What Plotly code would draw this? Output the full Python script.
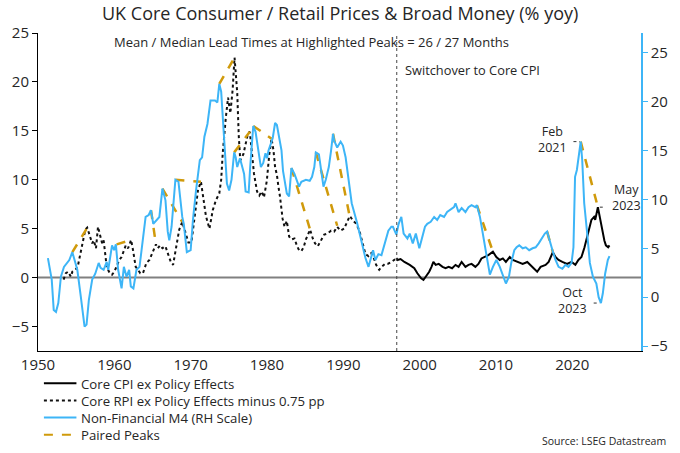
import plotly.graph_objects as go

# ---------------- data ----------------
m4_year = [1951.3,1951.8,1952.06,1952.36,1952.66,1953.0,1953.4,1954.1,1954.5,1954.7,1955.15,1955.6,1956.1,1956.36,1956.66,
           1957.1,1957.5,1957.95,1958.2,1958.6,1959.0,1959.2,1959.7,1959.97,1960.2,1960.5,1960.95,1961.25,1961.6,1961.94,
           1962.16,1962.5,1962.9,1963.3,1963.66,1964.1,1964.5,1964.8,1965.1,1965.9,1966.3,1966.7,1967.0,1967.2,1967.5,
           1968.0,1968.4,1968.9,1969.1,1969.5,1970.0,1970.3,1970.7,1971.2,1971.5,1971.8,1972.2,1972.6,1973.2,1973.5,
           1973.75,1974.0,1974.4,1974.75,1975.04,1975.35,1975.7,1975.9,1976.1,1976.46,1976.8,1977.0,1977.2,1977.6,1977.8,
           1978.2,1978.5,1978.9,1979.2,1979.5,1979.8,1980.0,1980.2,1980.6,1980.76,1981.06,1981.3,1981.6,1981.9,1982.1,
           1982.6,1982.9,1983.2,1983.6,1983.8,1984.2,1984.5,1985.1,1985.6,1985.9,1986.2,1986.4,1986.8,1987.1,1987.4,
           1987.7,1988.1,1988.4,1988.65,1988.8,1989.0,1989.2,1989.65,1989.95,1990.3,1990.6,1991.1,1991.8,1992.4,1992.9,
           1993.3,1993.65,1993.9,1994.2,1994.6,1995.0,1995.45,1995.9,1996.3,1996.5,1996.95,1997.25,1997.6,1997.9,1998.4,
           1998.7,1999.1,1999.5,1999.96,2000.4,2000.7,2001.0,2001.45,2001.9,2002.3,2002.7,2003.2,2003.6,2004.0,2004.5,
           2004.7,2005.1,2005.5,2006.0,2006.4,2006.8,2007.3,2007.5,2007.9,2008.3,2008.8,2009.2,2009.6,2010.05,2010.5,
           2011.0,2011.3,2011.7,2012.0,2012.4,2012.7,2013.05,2013.5,2013.9,2014.35,2014.8,2015.2,2015.6,2016.1,2016.4,
           2016.7,2017.0,2017.4,2017.8,2018.2,2018.7,2019.1,2019.5,2019.9,2020.15,2020.36,2020.6,2020.8,2021.1,2021.3,
           2021.56,2021.9,2022.3,2022.7,2023.15,2023.45,2023.75,2024.0,2024.3,2024.65,2024.87]
m4_value = [4.0,1.8,-1.3,-1.5,-0.6,2.1,3.1,3.8,4.6,4.1,2.8,0.1,-3.0,-2.8,-0.3,
            1.8,2.4,3.5,3.0,2.8,3.6,2.8,5.3,4.8,5.4,2.8,0.9,3.1,2.1,2.8,
            1.1,0.9,2.8,3.1,5.2,8.2,8.4,8.9,7.5,8.2,11.1,9.9,6.7,5.8,7.2,
            12.0,11.8,8.2,7.5,4.6,4.8,7.9,10.9,14.0,14.3,16.4,17.7,20.1,20.1,19.9,
            21.8,21.0,16.0,11.6,10.9,12.0,14.8,14.3,13.3,14.2,13.2,12.6,10.8,10.7,13.3,
            17.5,16.9,15.0,13.3,13.7,14.7,14.2,15.0,15.9,16.3,17.8,17.6,16.3,15.0,12.9,
            10.6,10.3,13.2,12.6,12.1,11.3,11.8,12.0,11.9,12.3,13.3,14.8,14.6,12.8,11.3,
            12.0,13.3,15.0,16.7,16.0,15.7,15.3,15.9,15.5,14.3,12.5,9.6,7.6,5.5,4.0,
            3.1,4.2,4.8,3.8,4.4,4.3,5.6,6.8,7.2,7.2,6.4,7.5,8.2,6.5,6.0,
            6.5,5.5,6.5,5.0,6.5,7.2,7.5,7.7,8.2,7.9,8.4,8.2,8.7,8.9,9.2,
            9.6,8.7,9.1,8.7,9.2,9.4,9.2,9.4,8.2,6.5,4.2,2.3,3.1,3.8,3.1,
            2.1,1.4,2.1,3.5,4.8,5.1,5.3,5.0,5.1,4.8,5.0,5.1,5.5,6.2,6.5,
            6.7,5.8,4.8,3.8,3.1,2.9,3.3,3.1,3.5,5.1,12.3,13.0,14.0,15.9,14.0,
            9.6,6.9,3.5,2.1,1.4,0.0,-0.6,0.4,2.4,3.8,4.2]

rpi_year = [1953.35,1953.65,1953.95,1954.3,1954.5,1954.9,1955.2,1955.6,1955.9,1956.2,1956.45,1956.8,1957.1,1957.3,1957.6,
            1957.86,1958.2,1958.4,1958.6,1958.8,1959.0,1959.4,1959.7,1960.0,1960.3,1960.65,1960.95,1961.25,1961.5,1961.8,
            1962.2,1962.45,1962.8,1963.1,1963.4,1963.75,1964.2,1964.6,1964.95,1965.45,1965.7,1966.0,1966.3,1966.7,1967.0,
            1967.4,1967.7,1968.0,1968.5,1968.9,1969.3,1969.7,1970.1,1970.5,1970.97,1971.35,1971.6,1972.0,1972.46,1972.9,
            1973.3,1973.75,1974.0,1974.2,1974.6,1974.9,1975.2,1975.5,1975.75,1976.1,1976.3,1976.5,1976.9,1977.1,1977.3,
            1977.5,1977.75,1978.05,1978.3,1978.7,1979.0,1979.3,1979.6,1979.98,1980.3,1980.6,1980.85,1981.06,1981.3,1981.5,
            1981.7,1982.05,1982.3,1982.6,1982.9,1983.2,1983.6,1983.9,1984.2,1984.5,1984.8,1985.1,1985.45,1985.65,1986.0,
            1986.3,1986.65,1987.1,1987.5,1987.9,1988.4,1988.8,1989.2,1989.65,1990.1,1990.5,1990.85,1991.3,1991.7,1992.1,
            1992.5,1992.9,1993.3,1993.65,1993.95,1994.3,1994.7,1995.0,1995.45,1995.8,1996.3,1996.7,1996.95]
rpi_value = [-0.2,0.45,0.6,0.1,0.6,0.8,1.1,2.5,3.8,4.9,5.1,4.2,3.5,3.8,3.0,
             5.2,4.2,3.5,3.8,2.5,1.1,0.45,0.3,0.6,1.1,1.8,2.1,2.7,3.3,3.0,
             3.85,2.8,1.1,0.8,0.45,0.45,1.5,1.8,2.5,3.4,3.0,3.3,3.0,3.2,2.5,
             1.6,1.3,2.8,4.9,5.7,4.5,3.6,3.6,6.3,9.0,9.8,8.3,6.3,5.0,6.9,
             7.9,8.6,10.0,12.7,16.3,18.4,16.8,19.2,22.5,18.9,14.5,12.0,12.6,13.3,14.0,
             14.7,14.9,12.3,10.6,8.8,8.4,8.8,8.2,9.9,12.6,14.2,13.0,11.3,10.5,9.3,
             8.3,6.0,5.2,5.8,4.2,3.9,4.0,3.3,2.8,2.7,3.1,3.9,4.5,4.9,4.0,
             3.5,3.2,3.9,4.4,4.5,4.8,4.7,5.2,4.8,5.0,5.7,6.3,5.8,5.5,4.8,
             3.6,2.4,2.2,2.5,2.1,1.3,0.8,1.1,1.4,1.4,1.6,1.8,1.96]

cpi_year = [1996.95,1997.1,1997.5,1998.0,1998.7,1999.3,1999.7,2000.2,2000.5,2000.8,2001.25,2001.55,2001.8,2002.1,2002.5,
            2003.0,2003.4,2003.8,2004.25,2004.7,2005.1,2005.5,2006.0,2006.4,2006.8,2007.3,2007.7,2008.1,2008.5,2009.0,
            2009.6,2010.05,2010.5,2010.9,2011.3,2011.8,2012.2,2012.8,2013.5,2014.1,2014.8,2015.4,2015.85,2016.5,2016.9,
            2017.45,2017.8,2018.2,2018.7,2019.3,2019.9,2020.4,2020.8,2021.2,2021.6,2022.1,2022.5,2022.85,2023.0,2023.35,
            2023.6,2023.8,2024.2,2024.4,2024.7,2024.87]
cpi_value = [2.0,1.8,1.9,1.6,1.3,0.96,0.44,-0.07,-0.24,0.1,0.6,1.1,1.6,1.3,1.4,
             1.1,0.96,1.1,0.96,1.3,1.1,1.6,1.1,1.3,1.4,1.1,1.4,1.96,2.1,2.3,
             2.65,2.1,1.8,1.96,1.6,2.1,1.8,1.6,1.4,1.6,1.1,0.6,1.1,1.3,1.6,
             2.6,2.1,1.8,1.6,1.4,1.6,1.3,1.8,2.1,3.1,4.8,5.9,6.2,5.9,7.2,
             6.2,5.2,3.8,3.3,3.1,3.3]

# paired peaks: M4 peak (RH scale) -> price peak (LH scale)
peak_m4_year = [1954.5,1960.3,1964.8,1966.3,1968.0,1973.75,1975.7,1978.2,1983.2,1986.4,1988.65,2007.5,2016.7,2021.1]
peak_m4_value = [4.6,5.4,8.9,11.1,12.0,21.8,14.8,17.5,13.2,14.8,16.7,9.4,6.7,15.9]
peak_px_year = [1956.45,1962.2,1965.45,1968.9,1971.35,1975.75,1977.75,1980.6,1985.65,1989.2,1990.85,2009.6,2017.45,2023.35]
peak_px_value = [5.1,3.85,3.4,5.7,9.8,22.5,14.9,14.2,4.9,5.3,6.2,2.65,2.6,7.2]

x_ticks = [1950,1960,1970,1980,1990,2000,2010,2020]
left_ticks = [-5,0,5,10,15,20,25]
right_ticks = [-5,0,5,10,15,20,25]
LEFT_RANGE = [-7.5, 25]
RIGHT_RANGE = [-5.5, 27]
X_RANGE = [1950, 2029]

legend_labels = ["Core CPI ex Policy Effects",
                 "Core RPI ex Policy Effects minus 0.75 pp",
                 "Non-Financial M4 (RH Scale)",
                 "Paired Peaks"]

# ---------------- styling ----------------
FONT = "Open Sans"
BLUE = "#3db5f7"
GOLD = "#d09a0b"
TXT = "#262626"

def right_to_left(v):
    return LEFT_RANGE[0] + (v - RIGHT_RANGE[0]) * (LEFT_RANGE[1]-LEFT_RANGE[0])/(RIGHT_RANGE[1]-RIGHT_RANGE[0])

pk_x, pk_y = [], []
for a, b, c, d in zip(peak_m4_year, peak_m4_value, peak_px_year, peak_px_value):
    pk_x += [a, c, None]
    pk_y += [right_to_left(b), d, None]

fig = go.Figure()
fig.add_trace(go.Scatter(x=m4_year, y=m4_value, yaxis="y2", mode="lines",
                         line=dict(color=BLUE, width=2), name=legend_labels[2], showlegend=False))
fig.add_trace(go.Scatter(x=rpi_year, y=rpi_value, mode="lines",
                         line=dict(color="#111111", width=2, dash="dot"), name=legend_labels[1], showlegend=False))
fig.add_trace(go.Scatter(x=cpi_year, y=cpi_value, mode="lines",
                         line=dict(color="#000000", width=2), name=legend_labels[0], showlegend=False))
fig.add_trace(go.Scatter(x=pk_x, y=pk_y, mode="lines",
                         line=dict(color=GOLD, width=2.5, dash="dash"), name=legend_labels[3], showlegend=False))

shapes = [
    dict(type="line", xref="paper", yref="y", x0=0, x1=1, y0=0, y1=0, line=dict(color="#808080", width=2), layer="below"),
    dict(type="line", xref="x", yref="paper", x0=1997, x1=1997, y0=0, y1=1, line=dict(color="#444444", width=1, dash="dot")),
    # annotation leaders
    dict(type="line", xref="x", yref="y", x0=2020.15, x1=2021.0, y0=13.9, y1=13.9, line=dict(color="#333", width=1, dash="dot")),
    dict(type="line", xref="x", yref="y", x0=2023.6, x1=2024.3, y0=7.2, y1=7.2, line=dict(color="#333", width=1, dash="dot")),
    dict(type="line", xref="x", yref="y", x0=2022.8, x1=2023.6, y0=-2.6, y1=-2.6, line=dict(color="#333", width=1, dash="dot")),
]

def px_x(x): return (x - 34) / 612
def px_y(y): return (351 - y) / 318

# legend: one multi-line text block + sample line shapes
LEG_FONT = 13.2
LEG_LH = 1.3 * LEG_FONT
LEG_CENTER = 409
leg_top = LEG_CENTER - 2 * LEG_LH
legend_styles = [("#000000", "solid"), ("#111111", "dot"), (BLUE, "solid"), (GOLD, "dash")]
for i, (col, dash) in enumerate(legend_styles):
    yy = leg_top + (i + 0.5) * LEG_LH
    shapes.append(dict(type="line", xref="paper", yref="paper", x0=px_x(40), x1=px_x(73), y0=px_y(yy), y1=px_y(yy),
                       line=dict(color=col, width=2, dash=dash)))

annotations = [
    dict(xref="paper", yref="paper", x=px_x(76), y=px_y(LEG_CENTER), text="<br>".join(legend_labels), showarrow=False,
         align="left", xanchor="left", yanchor="middle", font=dict(family=FONT, size=LEG_FONT, color=TXT)),
    dict(xref="paper", yref="paper", x=px_x(340), y=px_y(13), text="UK Core Consumer / Retail Prices & Broad Money (% yoy)",
         showarrow=False, xanchor="center", yanchor="middle", font=dict(family=FONT, size=18, color=TXT)),
    dict(xref="paper", yref="paper", x=px_x(312), y=px_y(41.5), text="Mean / Median Lead Times at Highlighted Peaks = 26 / 27 Months",
         showarrow=False, xanchor="center", yanchor="middle", font=dict(family=FONT, size=13, color=TXT)),
    dict(xref="paper", yref="paper", x=px_x(404), y=px_y(70), text="Switchover to Core CPI",
         showarrow=False, xanchor="left", yanchor="middle", font=dict(family=FONT, size=12.8, color=TXT)),
    dict(xref="x", yref="y", x=2017.36, y=14.15, text="Feb<br>2021", showarrow=False, align="center",
         xanchor="center", yanchor="middle", font=dict(family=FONT, size=12.5, color=TXT)),
    dict(xref="x", yref="y", x=2025.0, y=8.23, text="May<br>2023", showarrow=False, align="center",
         xanchor="left", yanchor="middle", font=dict(family=FONT, size=12.5, color=TXT)),
    dict(xref="x", yref="y", x=2020.04, y=-2.36, text="Oct<br>2023", showarrow=False, align="center",
         xanchor="center", yanchor="middle", font=dict(family=FONT, size=12.5, color=TXT)),
    dict(xref="paper", yref="paper", x=px_x(673), y=px_y(441), text="Source: LSEG Datastream",
         showarrow=False, xanchor="right", yanchor="middle", font=dict(family=FONT, size=10.5, color=TXT)),
]

fig.update_layout(
    width=680, height=453,
    margin=dict(l=34, r=34, t=33, b=102),
    paper_bgcolor="white", plot_bgcolor="white",
    font=dict(family=FONT, color=TXT),
    showlegend=False,
    xaxis=dict(range=X_RANGE, tickvals=x_ticks, showline=True, linecolor="black", linewidth=1,
               ticks="", showgrid=False, zeroline=False,
               tickfont=dict(family=FONT, size=15, color=TXT)),
    yaxis=dict(range=LEFT_RANGE, tickvals=left_ticks, showline=True, linecolor="black", linewidth=1,
               ticks="outside", ticklen=5, tickcolor="black", showgrid=False, zeroline=False,
               tickfont=dict(family=FONT, size=15, color=TXT)),
    yaxis2=dict(range=RIGHT_RANGE, tickvals=right_ticks, overlaying="y", side="right", showline=True,
                linecolor=BLUE, linewidth=1.5, ticks="outside", ticklen=5, tickcolor=BLUE, showgrid=False,
                zeroline=False, tickfont=dict(family=FONT, size=15, color=TXT)),
    shapes=shapes, annotations=annotations,
)

fig.write_html("out.html")
